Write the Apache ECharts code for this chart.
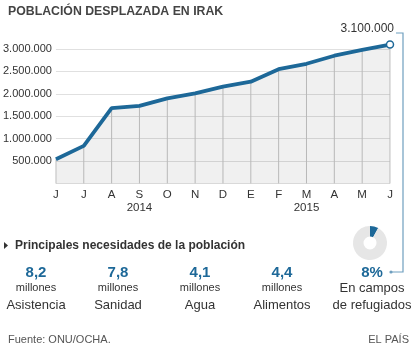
<!DOCTYPE html>
<html>
<head>
<meta charset="utf-8">
<script src="https://cdn.jsdelivr.net/npm/echarts@6/dist/echarts.min.js"></script>
<style>
  html, body { margin: 0; padding: 0; background: #fff; }
  #chart { width: 414px; height: 350px; }
</style>
</head>
<body>
<div id="chart"></div>
<script>
// meses de junio 2014 a junio 2015
const months = ['J', 'J', 'A', 'S', 'O', 'N', 'D', 'E', 'F', 'M', 'A', 'M', 'J'];
const years = ['', '', '', '2014', '', '', '', '', '', '2015', '', '', ''];
const displaced = [540000, 840000, 1680000, 1730000, 1900000, 2010000, 2160000, 2270000, 2550000, 2670000, 2850000, 2980000, 3100000];

const needValues = ['8,2', '7,8', '4,1', '4,4'];
const needUnits = ['millones', 'millones', 'millones', 'millones'];
const needLabels = ['Asistencia', 'Sanidad', 'Agua', 'Alimentos'];
const campShare = 8;

const blue = '#1d6898';
const font = '"Liberation Sans", Arial, sans-serif';

function dots(v) {
  return String(v).replace(/\B(?=(\d{3})+(?!\d))/g, '.');
}

const chart = echarts.init(document.getElementById('chart'), null, { renderer: 'canvas' });

const lineData = displaced.map((v, i) => {
  if (i === displaced.length - 1) {
    return {
      value: v,
      symbol: 'circle',
      symbolSize: 7,
      itemStyle: { color: '#fff', borderColor: blue, borderWidth: 1.5 },
      label: {
        show: true,
        position: 'top',
        align: 'right',
        offset: [4, -1],
        formatter: (p) => dots(p.value),
        color: '#333',
        fontSize: 12,
        fontFamily: font
      }
    };
  }
  return { value: v, symbol: 'none' };
});

// textos de la parte inferior
const centers = [36, 118, 200, 282];
const bottomTexts = [];
needValues.forEach((v, i) => {
  bottomTexts.push({ type: 'text', x: centers[i], y: 273, style: { text: v, fill: blue, font: 'bold 15px ' + font, textAlign: 'center', textVerticalAlign: 'middle' } });
  bottomTexts.push({ type: 'text', x: centers[i], y: 288, style: { text: needUnits[i], fill: '#333', font: '11px ' + font, textAlign: 'center', textVerticalAlign: 'middle' } });
  bottomTexts.push({ type: 'text', x: centers[i], y: 305, style: { text: needLabels[i], fill: '#333', font: '13px ' + font, textAlign: 'center', textVerticalAlign: 'middle' } });
});

const option = {
  animation: false,
  grid: { left: 54, right: 24, top: 49, bottom: 166.5 },
  xAxis: [{
    type: 'category',
    data: months,
    boundaryGap: false,
    axisLine: { show: false },
    axisTick: { show: false },
    axisLabel: { color: '#333', fontSize: 11.5, fontFamily: font, margin: 5 },
    splitLine: { show: false }
  }, {
    type: 'category',
    data: years,
    boundaryGap: false,
    position: 'bottom',
    offset: 13,
    axisLine: { show: false },
    axisTick: { show: false },
    axisLabel: { color: '#333', fontSize: 11.5, fontFamily: font, margin: 5, interval: 0 },
    splitLine: { show: false }
  }],
  yAxis: {
    type: 'value',
    min: 0,
    max: 3000000,
    interval: 500000,
    axisLine: { show: false },
    axisTick: { show: false },
    axisLabel: {
      color: '#333', fontSize: 11, fontFamily: font, margin: 4,
      formatter: (v) => (v === 0 ? '' : dots(v))
    },
    splitLine: { lineStyle: { color: '#e0e0e0', width: 1 } }
  },
  series: [{
    type: 'bar',
    data: displaced,
    barWidth: 1,
    clip: false,
    silent: true,
    itemStyle: { color: '#c4c4c4' },
    z: 1
  }, {
    type: 'line',
    data: lineData,
    clip: false,
    showSymbol: true,
    lineStyle: { color: blue, width: 3.8 },
    areaStyle: { color: 'rgba(0,0,0,0.085)', origin: 'start' },
    z: 3
  }, {
    type: 'pie',
    center: [370, 243],
    radius: [6.5, 17],
    startAngle: 90,
    clockwise: true,
    silent: true,
    label: { show: false },
    labelLine: { show: false },
    data: [
      { value: campShare, itemStyle: { color: blue } },
      { value: 100 - campShare, itemStyle: { color: '#e6e6e6' } }
    ]
  }],
  graphic: [
    { type: 'text', x: 8, y: 12, style: { text: 'POBLACIÓN DESPLAZADA EN IRAK', fill: '#444', font: 'bold 12.3px ' + font, textVerticalAlign: 'middle' } },
    { type: 'polygon', shape: { points: [[4, 242], [8, 245.5], [4, 249]] }, style: { fill: '#333' } },
    { type: 'text', x: 15, y: 246, style: { text: 'Principales necesidades de la población', fill: '#333', font: 'bold 12px ' + font, textVerticalAlign: 'middle' } },
    { type: 'polyline', shape: { points: [[396, 33], [403, 33], [403, 272], [391, 272]] }, style: { stroke: '#6f9fbf', lineWidth: 1.2, fill: null } },
    { type: 'circle', shape: { cx: 391, cy: 272, r: 1.6 }, style: { fill: '#6f9fbf' } },
    { type: 'text', x: 372, y: 273, style: { text: campShare + '%', fill: blue, font: 'bold 15px ' + font, textAlign: 'center', textVerticalAlign: 'middle' } },
    { type: 'text', x: 372, y: 288, style: { text: 'En campos', fill: '#333', font: '13px ' + font, textAlign: 'center', textVerticalAlign: 'middle' } },
    { type: 'text', x: 372, y: 305, style: { text: 'de refugiados', fill: '#333', font: '13px ' + font, textAlign: 'center', textVerticalAlign: 'middle' } },
    { type: 'text', x: 8, y: 340, style: { text: 'Fuente: ONU/OCHA.', fill: '#555', font: '11px ' + font, textVerticalAlign: 'middle' } },
    { type: 'text', x: 409, y: 340, style: { text: 'EL PAÍS', fill: '#555', font: '11px ' + font, textAlign: 'right', textVerticalAlign: 'middle' } }
  ].concat(bottomTexts)
};

chart.setOption(option);
</script>
</body>
</html>
